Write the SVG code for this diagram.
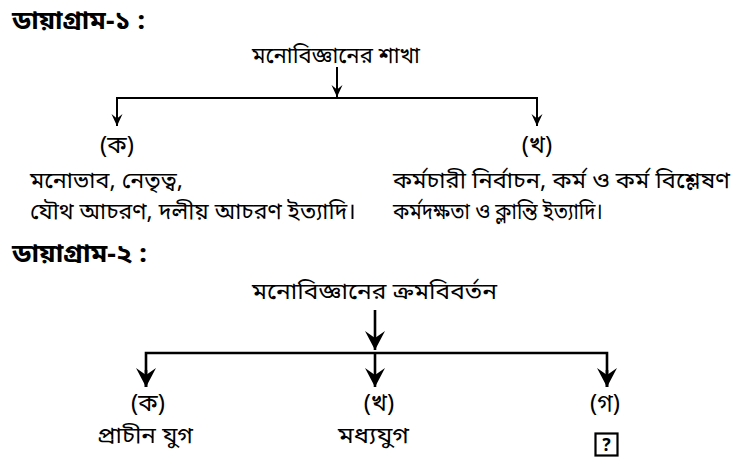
<svg xmlns="http://www.w3.org/2000/svg" width="737" height="466" viewBox="0 0 737 466">
<style>
text{font-family:"Noto Sans Bengali","Noto Serif Bengali","Lohit Bengali","Noto Sans","DejaVu Sans",sans-serif;fill:#000}
.title{font-size:25px;font-weight:700}
.body{font-size:23px;font-weight:400}
.lbl{font-size:24px;font-weight:400}
.c{text-anchor:middle}
.l1{stroke:#000;stroke-width:2;fill:none}
.l2{stroke:#000;stroke-width:2.6;fill:none}
</style>
<defs>
<marker id="as" viewBox="-12 -6 12 12" markerWidth="12" markerHeight="12" refX="0" refY="0" orient="auto" markerUnits="userSpaceOnUse">
<path d="M0,0 L-12,-5.5 L-7.5,0 L-12,5.5 Z" fill="#000"/>
</marker>
<marker id="ab" viewBox="-19 -10 19 20" markerWidth="19" markerHeight="20" refX="0" refY="0" orient="auto" markerUnits="userSpaceOnUse">
<path d="M0,0 L-19,-10 L-12,0 L-19,10 Z" fill="#000"/>
</marker>
</defs>
<rect width="737" height="466" fill="#fff"/>
<g id="title1"><text class="title" x="12" y="29" textLength="133" lengthAdjust="spacingAndGlyphs">ডায়াগ্রাম-১ :</text></g>
<g id="root1"><text class="body" x="252" y="63" textLength="168" lengthAdjust="spacingAndGlyphs">মনোবিজ্ঞানের শাখা</text></g>
<g id="n1a">
<text class="lbl c" x="117" y="153">(ক)</text>
<text class="body" x="30" y="188" textLength="153" lengthAdjust="spacingAndGlyphs">মনোভাব, নেতৃত্ব,</text>
<text class="body" x="30" y="219" textLength="326" lengthAdjust="spacingAndGlyphs">যৌথ আচরণ, দলীয় আচরণ ইত্যাদি।</text>
</g>
<g id="n1b">
<text class="lbl c" x="537" y="153">(খ)</text>
<text class="body" x="393" y="188" textLength="337" lengthAdjust="spacingAndGlyphs">কর্মচারী নির্বাচন, কর্ম ও কর্ম বিশ্লেষণ</text>
<text class="body" x="393" y="219" textLength="210" lengthAdjust="spacingAndGlyphs">কর্মদক্ষতা ও ক্লান্তি ইত্যাদি।</text>
</g>
<g id="title2"><text class="title" x="12" y="262" textLength="135" lengthAdjust="spacingAndGlyphs">ডায়াগ্রাম-২ :</text></g>
<g id="root2"><text class="body" x="252" y="299" textLength="245" lengthAdjust="spacingAndGlyphs">মনোবিজ্ঞানের ক্রমবিবর্তন</text></g>
<g id="n2a">
<text class="lbl c" x="148" y="411">(ক)</text>
<text class="body" x="97" y="443" textLength="96" lengthAdjust="spacingAndGlyphs">প্রাচীন যুগ</text>
</g>
<g id="n2b">
<text class="lbl c" x="379" y="411">(খ)</text>
<text class="body" x="338" y="443" textLength="71" lengthAdjust="spacingAndGlyphs">মধ্যযুগ</text>
</g>
<g id="n2c">
<text class="lbl c" x="605" y="411">(গ)</text>
<rect x="595.5" y="433.5" width="22" height="22" fill="none" stroke="#000" stroke-width="2.2"/>
<text class="c" x="606.5" y="451" font-size="17" font-weight="700">?</text>
</g>
<g id="connectors">
<path class="l1" d="M337,67 V97" marker-end="url(#as)"/>
<path class="l1" d="M117,126 V98 H537 V126" />
<path class="l1" d="M117,110 V126" marker-end="url(#as)"/>
<path class="l1" d="M537,110 V126" marker-end="url(#as)"/>
<path class="l2" d="M375,310 V350" marker-end="url(#ab)"/>
<path class="l2" d="M146,387 V353 H607 V387"/>
<path class="l2" d="M146,370 V387" marker-end="url(#ab)"/>
<path class="l2" d="M375,353 V387" marker-end="url(#ab)"/>
<path class="l2" d="M607,370 V387" marker-end="url(#ab)"/>
</g>
</svg>
